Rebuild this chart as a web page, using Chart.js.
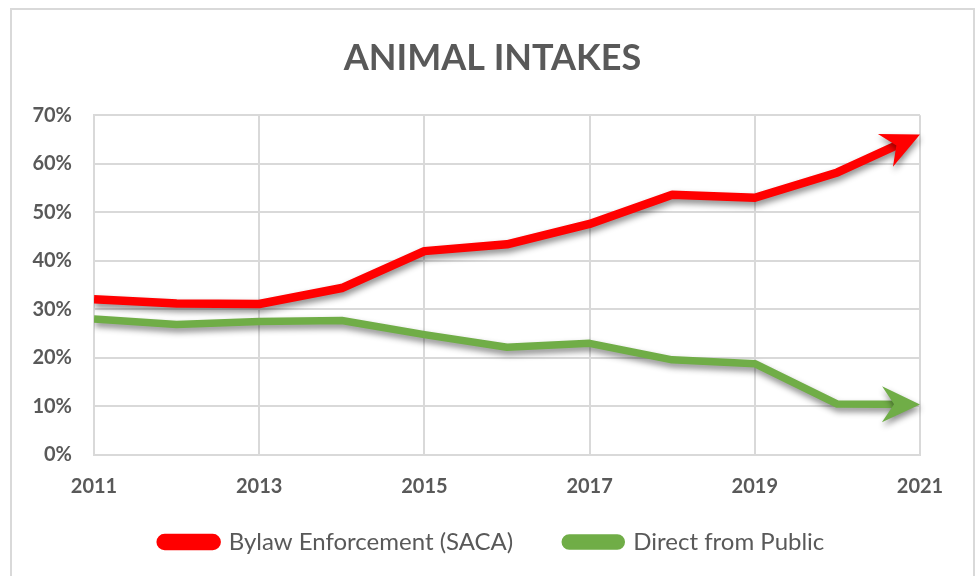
<!DOCTYPE html>
<html>
<head>
<meta charset="utf-8">
<script src="https://cdn.jsdelivr.net/npm/chart.js@4.4.0/dist/chart.umd.min.js"></script>
<style>
    html, body { margin: 0; padding: 0; background: #fff; }
    #wrap { position: relative; width: 975px; height: 576px; }
    #frame { position: absolute; left: 10px; top: 8px; width: 961px; height: 600px; border: 2px solid #d9d9d9; pointer-events: none; }
</style>
</head>
<body>
<div id="wrap">
    <canvas id="myChart" width="975" height="576"></canvas>
    <div id="frame"></div>
</div>
<script>
const years = [2011, 2012, 2013, 2014, 2015, 2016, 2017, 2018, 2019, 2020, 2021];
const bylaw = [32.1, 31.2, 31.1, 34.4, 42.0, 43.4, 47.6, 53.6, 53.0, 58.2, 66.0];
const publicDirect = [28.0, 26.9, 27.5, 27.7, 24.8, 22.2, 23.0, 19.6, 18.8, 10.5, 10.4];
const seriesNames = ['Bylaw Enforcement (SACA)', 'Direct from Public'];
const seriesColors = ['#ff0000', '#70ad47'];
const yTicks = [0, 10, 20, 30, 40, 50, 60, 70];
const titleText = 'ANIMAL INTAKES';

const textColor = '#595959';
const gridColor = '#d9d9d9';
const font = 'Lato, "Open Sans", sans-serif';

function toPoints(vals) {
    return years.map((y, i) => ({ x: y, y: vals[i] }));
}

// arrow geometry at the last point, along the last segment
function arrowInfo(chart, index) {
    var meta = chart.getDatasetMeta(index);
    var pts = meta.data;
    var p1 = pts[pts.length - 2], p2 = pts[pts.length - 1];
    var ang = Math.atan2(p2.y - p1.y, p2.x - p1.x);
    return { x: p2.x, y: p2.y, ang: ang };
}

const arrowLen = 38, arrowHalf = 18, notch = 26;

const arrowPlugin = {
    id: 'arrows',
    afterLayout(chart) {
        // x axis box is kept short so the legend can sit close; let its labels draw below it anyway
        var x = chart.scales.x;
        x.bottom = x.top + 63;
    },
    beforeDatasetDraw(chart, args) {
        var ctx = chart.ctx;
        var a = arrowInfo(chart, args.index);
        ctx.save();
        // cut the line off past the notch so it does not poke out of the arrow tip
        ctx.beginPath();
        ctx.rect(0, 0, chart.width, chart.height);
        var c = Math.cos(a.ang), s = Math.sin(a.ang);
        var corners = [[-notch + 2, -30], [60, -30], [60, 30], [-notch + 2, 30]];
        corners.forEach(function(pt, k) {
            var px = a.x + pt[0] * c - pt[1] * s;
            var py = a.y + pt[0] * s + pt[1] * c;
            if (k === 0) ctx.moveTo(px, py); else ctx.lineTo(px, py);
        });
        ctx.closePath();
        ctx.clip('evenodd');
        ctx.shadowColor = 'rgba(0,0,0,0.45)';
        ctx.shadowBlur = 6;
        ctx.shadowOffsetX = 1;
        ctx.shadowOffsetY = 4;
    },
    afterDatasetDraw(chart, args) {
        var ctx = chart.ctx;
        ctx.restore();
        var a = arrowInfo(chart, args.index);
        ctx.save();
        ctx.translate(a.x, a.y);
        ctx.rotate(a.ang);
        ctx.shadowColor = 'rgba(0,0,0,0.45)';
        ctx.shadowBlur = 6;
        ctx.shadowOffsetX = 1;
        ctx.shadowOffsetY = 4;
        ctx.fillStyle = seriesColors[args.index];
        ctx.beginPath();
        ctx.moveTo(0, 0);
        ctx.lineTo(-arrowLen, -arrowHalf);
        ctx.lineTo(-notch, 0);
        ctx.lineTo(-arrowLen, arrowHalf);
        ctx.closePath();
        ctx.fill();
        ctx.restore();
    }
};

var ctx = document.getElementById('myChart').getContext('2d');
var myChart = new Chart(ctx, {
    type: 'line',
    data: {
        datasets: [{
            label: seriesNames[0],
            data: toPoints(bylaw),
            borderColor: seriesColors[0],
            backgroundColor: seriesColors[0],
            borderWidth: 8.5,
            pointRadius: 0,
            borderJoinStyle: 'round',
            tension: 0
        }, {
            label: seriesNames[1],
            data: toPoints(publicDirect),
            borderColor: seriesColors[1],
            backgroundColor: seriesColors[1],
            borderWidth: 7.5,
            pointRadius: 0,
            borderJoinStyle: 'round',
            tension: 0
        }]
    },
    options: {
        responsive: false,
        animation: false,
        layout: { padding: { left: 10, right: 0, top: 0, bottom: 12 } },
        plugins: {
            title: {
                display: true,
                text: titleText,
                color: textColor,
                font: { family: font, size: 36, weight: 'bold', lineHeight: 1.2 },
                padding: { top: 37, bottom: 35 }
            },
            legend: {
                position: 'bottom',
                maxHeight: 88,
                labels: {
                    color: textColor,
                    font: { family: font, size: 24 },
                    boxWidth: 56,
                    boxHeight: 8,
                    useBorderRadius: true,
                    borderRadius: 4,
                    padding: 52
                }
            },
            tooltip: { enabled: false }
        },
        scales: {
            x: {
                type: 'linear',
                min: 2011,
                max: 2021,
                afterFit: function(scale) { scale.height = 23; },
                ticks: {
                    stepSize: 2,
                    color: textColor,
                    font: { family: font, size: 20, weight: 'bold' },
                    padding: 20,
                    maxRotation: 0,
                    callback: function(v) { return String(v); }
                },
                grid: { color: gridColor, lineWidth: 2, drawTicks: false },
                border: { color: gridColor, width: 2 }
            },
            y: {
                min: 0,
                max: 70,
                afterFit: function(scale) { scale.width = 84; },
                afterBuildTicks: function(scale) {
                    scale.ticks = yTicks.map(function(v) { return { value: v }; });
                },
                ticks: {
                    color: textColor,
                    font: { family: font, size: 20, weight: 'bold' },
                    padding: 22,
                    callback: function(v) { return v + '%'; }
                },
                grid: { color: gridColor, lineWidth: 2, drawTicks: false },
                border: { color: gridColor, width: 2 }
            },
            // empty right side space so the title and legend sit where they do in the original
            yRight: {
                position: 'right',
                min: 0,
                max: 70,
                afterFit: function(scale) { scale.width = 55; },
                ticks: { display: false },
                grid: { display: false, drawTicks: false },
                border: { display: false }
            }
        }
    },
    plugins: [arrowPlugin]
});
</script>
</body>
</html>
